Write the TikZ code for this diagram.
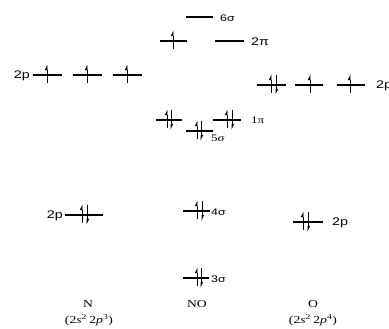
\documentclass[tikz,border=0pt]{standalone}
\usepackage{fontspec}
\usepackage{graphicx}
\setmainfont{Liberation Serif}
\setsansfont{Liberation Sans}
\usetikzlibrary{arrows.meta}
\newcommand\hwide[1]{\scalebox{1.3}[1]{#1}}

\begin{document}
\begin{tikzpicture}[x=1pt, y=-1pt,
  lvl/.style={line width=1.6pt},
  spin/.style={line width=0.8pt, -{Latex[left, length=5pt, width=5pt]}},
  biglabel/.style={font=\sffamily\fontsize{11}{12}\selectfont, inner sep=1pt},
  sanslabel/.style={font=\sffamily\fontsize{9.5}{10}\selectfont, inner sep=1pt},
  seriflabel/.style={font=\fontsize{10}{11}\selectfont, inner sep=1pt},
  atomlabel/.style={font=\fontsize{10.5}{12}\selectfont, inner sep=1pt}]
\useasboundingbox (0,0) rectangle (389,329);
% NO levels
\draw[lvl] (186,17)--(213,17);
\node[sanslabel, anchor=west] (sig6) at (219,18) {\hwide{6σ}};
\draw[lvl] (160,41)--(187,41);
\draw[spin] (173,49)--(173,30);
\draw[lvl] (215,41)--(244,41);
\node[biglabel, anchor=west] (pi2) at (250,42) {\hwide{2π}};
\draw[lvl] (156,120)--(182,120);
\draw[spin] (167,128)--(167,109);
\draw[spin] (171,110)--(171,130);
\draw[lvl] (213,120)--(241,120);
\draw[spin] (227,128)--(227,109);
\draw[spin] (232,110)--(232,130);
\node[seriflabel, anchor=west] (pi1) at (250,120) {\hwide{1π}};
\draw[lvl] (186,131)--(213,131);
\draw[spin] (197,139)--(197,120);
\draw[spin] (201,121)--(201,141);
\node[seriflabel, anchor=west] (sig5) at (210,138) {\hwide{5σ}};
\draw[lvl] (183,211)--(210,211);
\draw[spin] (197,219)--(197,200);
\draw[spin] (202,201)--(202,221);
\node[sanslabel, anchor=west] (sig4) at (210,212) {\hwide{4σ}};
\draw[lvl] (183,278)--(209,278);
\draw[spin] (197,286)--(197,267);
\draw[spin] (201,268)--(201,288);
\node[sanslabel, anchor=west] (sig3) at (210,279) {\hwide{3σ}};
% N levels
\node[biglabel, anchor=east] (Np) at (31,76) {\hwide{2p}};
\foreach \x in {33,73,113} {
  \draw[lvl] (\x,75)--(\x+29,75);
  \draw[spin] (\x+14,83)--(\x+14,64);
}
\node[biglabel, anchor=east] (Ns) at (64,216) {\hwide{2p}};
\draw[lvl] (65,215)--(103,215);
\draw[spin] (82,223)--(82,204);
\draw[spin] (87,205)--(87,225);
% O levels
\draw[lvl] (257,85)--(286,85);
\draw[spin] (271,93)--(271,74);
\draw[spin] (276,75)--(276,95);
\draw[lvl] (295,85)--(323,85);
\draw[spin] (310,93)--(310,74);
\draw[lvl] (337,85)--(365,85);
\draw[spin] (350,93)--(350,74);
\node[biglabel, anchor=west] (Op) at (375,86) {\hwide{2p}};
\draw[lvl] (293,222)--(323,222);
\draw[spin] (303,230)--(303,211);
\draw[spin] (308,212)--(308,232);
\node[biglabel, anchor=west] (Os) at (331,223) {\hwide{2p}};
% names
\node[atomlabel] (N) at (88,304) {\hwide{N}};
\node[atomlabel] (Nconf) at (89,320) {\hwide{(2\textit{s}\textsuperscript{2}\,2\textit{p}\textsuperscript{3})}};
\node[atomlabel] (NO) at (197,304) {\hwide{NO}};
\node[atomlabel] (O) at (313,304) {\hwide{O}};
\node[atomlabel] (Oconf) at (313,320) {\hwide{(2\textit{s}\textsuperscript{2}\,2\textit{p}\textsuperscript{4})}};
\end{tikzpicture}
\end{document}
